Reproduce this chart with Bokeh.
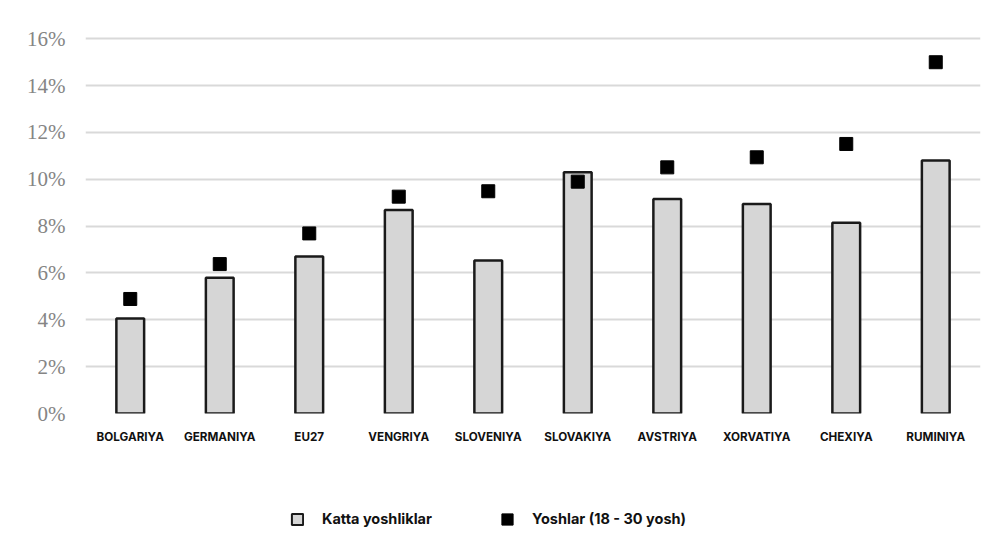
import numpy as np
from bokeh.plotting import figure
from bokeh.layouts import column
from bokeh.models import (ColumnDataSource, FactorRange, Range1d, FixedTicker,
                          PrintfTickFormatter, Legend, LegendItem)
from bokeh.embed import file_html
from bokeh.resources import INLINE

countries = ["BOLGARIYA", "GERMANIYA", "EU27", "VENGRIYA", "SLOVENIYA",
             "SLOVAKIYA", "AVSTRIYA", "XORVATIYA", "CHEXIYA", "RUMINIYA"]
katta = [4.06, 5.80, 6.70, 8.69, 6.53, 10.30, 9.16, 8.95, 8.14, 10.80]
yoshlar = [4.89, 6.38, 7.69, 9.26, 9.49, 9.90, 10.51, 10.94, 11.51, 15.0]
y_ticks = [0, 2, 4, 6, 8, 10, 12, 14, 16]
series_names = ["Katta yoshliklar", "Yoshlar (18 - 30 yosh)"]

BAR_FILL = "#d6d6d6"
BAR_LINE = "#1a1a1a"

src = ColumnDataSource(dict(c=countries, katta=katta, yoshlar=yoshlar))

p = figure(width=988, height=460, output_backend="svg", toolbar_location=None,
           x_range=FactorRange(factors=countries, range_padding=0),
           y_range=Range1d(0, 16.44),
           min_border_left=85, min_border_right=8, min_border_top=28,
           min_border_bottom=47)
p.outline_line_color = None
p.background_fill_color = "white"
p.border_fill_color = "white"

bars = p.vbar(x="c", top="katta", width=0.31, source=src,
              fill_color=BAR_FILL, line_color=BAR_LINE, line_width=2.5)
pts = p.scatter(x="c", y="yoshlar", source=src, marker="square", size=13,
                fill_color="#000000", line_color="#000000")

p.xgrid.grid_line_color = None
p.ygrid.grid_line_color = "#d9d9d9"
p.ygrid.grid_line_width = 2

p.yaxis.ticker = FixedTicker(ticks=y_ticks)
p.yaxis.formatter = PrintfTickFormatter(format="%d%%")
p.yaxis.axis_line_color = None
p.yaxis.major_tick_line_color = None
p.yaxis.minor_tick_line_color = None
p.yaxis.major_label_text_font = "Liberation Serif"
p.yaxis.major_label_text_font_size = "21px"
p.yaxis.major_label_text_color = "#858585"
p.yaxis.major_label_standoff = 14

p.xaxis.axis_line_color = None
p.xaxis.major_tick_line_color = None
p.xaxis.major_label_text_font = "Inter"
p.xaxis.major_label_text_font_style = "bold"
p.xaxis.major_label_text_font_size = "11.7px"
p.xaxis.major_label_text_color = "#111111"
p.xaxis.major_label_standoff = 10

# legend strip below the chart
lg = figure(width=988, height=72, output_backend="svg", toolbar_location=None,
            x_range=Range1d(0, 988), y_range=Range1d(0, 72),
            min_border=0, min_border_left=0, min_border_right=0,
            min_border_top=0, min_border_bottom=0)
lg.axis.visible = False
lg.grid.visible = False
lg.outline_line_color = None
lg.border_fill_color = "white"
lg.background_fill_color = "white"
# swatch renderers with undefined (NaN) data: nothing is drawn but their legend glyphs
nan = np.array([np.nan])
sw1 = lg.vbar(x=nan, top=nan, bottom=nan, width=1, fill_color=BAR_FILL,
              line_color=BAR_LINE, line_width=2)
sw2 = lg.vbar(x=nan, top=nan, bottom=nan, width=1, fill_color="#000000",
              line_color="#000000", line_width=1)
legend = Legend(items=[LegendItem(label=series_names[0], renderers=[sw1]),
                       LegendItem(label=series_names[1], renderers=[sw2])],
                orientation="horizontal", location=(205, 5),
                border_line_color=None, background_fill_alpha=0,
                label_text_font="Inter", label_text_font_style="bold",
                label_text_font_size="14.5px", label_text_color="#111111",
                glyph_width=14, glyph_height=14, spacing=68,
                label_standoff=18, margin=0, padding=2)
lg.add_layout(legend, "center")

layout = column(p, lg)
open("out.html", "w").write(file_html(layout, INLINE))
